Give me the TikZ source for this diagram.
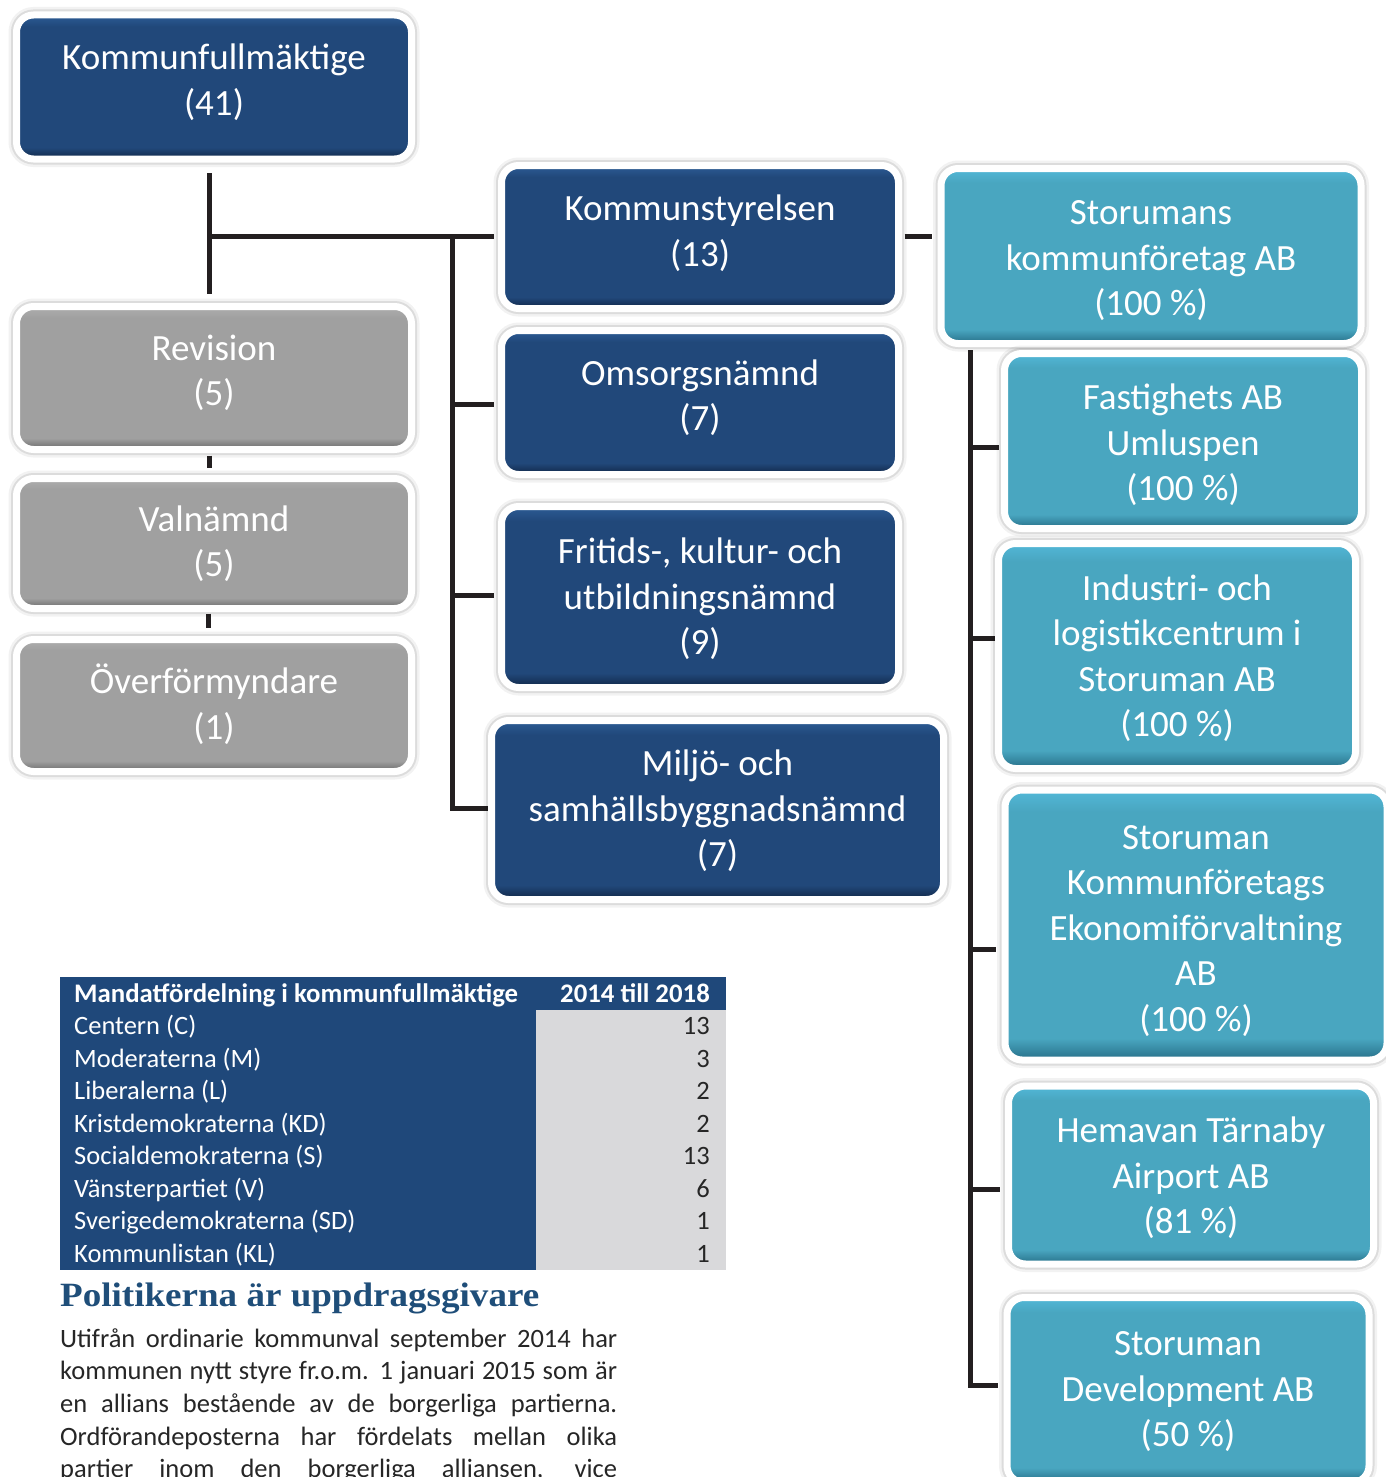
\documentclass[tikz,border=0pt]{standalone}
\usepackage{graphicx}
\usepackage{fontspec}
\setmainfont{Carlito}
\newfontfamily\headfont{Liberation Serif}
\usetikzlibrary{calc,backgrounds}

\definecolor{kblue}{RGB}{33,72,122}
\definecolor{kblueD}{RGB}{16,38,70}
\definecolor{kblueL}{RGB}{44,92,150}
\definecolor{kteal}{RGB}{73,166,192}
\definecolor{ktealD}{RGB}{38,110,135}
\definecolor{ktealL}{RGB}{82,184,216}
\definecolor{kgray}{RGB}{160,160,160}
\definecolor{kgrayD}{RGB}{105,105,105}
\definecolor{kgrayL}{RGB}{174,174,174}
\definecolor{conncol}{RGB}{35,31,32}
\definecolor{tblue}{RGB}{31,72,122}
\definecolor{tgray}{RGB}{217,217,219}
\definecolor{headblue}{RGB}{31,78,121}
\definecolor{bodytext}{RGB}{38,38,38}

\pgfdeclareverticalshading{blueshade}{100bp}{color(0bp)=(kblueD); color(25bp)=(kblueD); color(29bp)=(kblue); color(71bp)=(kblue); color(75bp)=(kblueL); color(100bp)=(kblueL)}
\pgfdeclareverticalshading{tealshade}{100bp}{color(0bp)=(ktealD); color(25bp)=(ktealD); color(29bp)=(kteal); color(71bp)=(kteal); color(75bp)=(ktealL); color(100bp)=(ktealL)}
\pgfdeclareverticalshading{grayshade}{100bp}{color(0bp)=(kgrayD); color(25bp)=(kgrayD); color(29bp)=(kgray); color(71bp)=(kgray); color(75bp)=(kgrayL); color(100bp)=(kgrayL)}

\newlength\boxlift
\newcommand{\bl}[1]{\raisebox{\boxlift}[\height][\depth]{#1}}

\tikzset{
  orgbox/.style={rounded corners=17pt, draw=white, line width=7pt, text=white,
    align=center, inner sep=0pt, outer sep=0pt, font=\fontsize{37}{45.5}\selectfont,
    preaction={draw=black, draw opacity=0.05, line width=16pt},
    preaction={draw=black, draw opacity=0.09, line width=11pt}},
  bluebox/.style={orgbox, shade, shading=blueshade},
  tealbox/.style={orgbox, shade, shading=tealshade},
  graybox/.style={orgbox, shade, shading=grayshade},
  textlift/.style={/utils/exec={\setlength{\boxlift}{#1}}},
  conn/.style={draw=conncol, line width=5pt, line join=miter},
  tabtxt/.style={inner sep=0pt, font=\fontsize{26.5}{32}\selectfont},
  bodytxt/.style={inner sep=0pt, text=bodytext, font=\fontsize{26.5}{32}\selectfont, anchor=base west}
}

\begin{document}
\begin{tikzpicture}[x=1pt,y=-1pt]
\useasboundingbox (0,0) rectangle (1386,1477);
\begin{scope}[on background layer]
  \fill[white] (0,0) rectangle (1386,1477);
\end{scope}

% left column
\node[bluebox, textlift=5pt, minimum width=395pt, minimum height=144pt] (kf) at (214,87) {\bl{Kommunfullmäktige}\\\bl{(41)}};
\node[graybox, textlift=5pt, minimum width=395pt, minimum height=143pt] (rev) at (214,378) {\bl{Revision}\\\bl{(5)}};
\node[graybox, textlift=0pt, minimum width=395pt, minimum height=130pt] (val) at (214,543.5) {\bl{Valnämnd}\\\bl{(5)}};
\node[graybox, textlift=1.5pt, minimum width=395pt, minimum height=132pt] (ovf) at (214,705.5) {\bl{Överförmyndare}\\\bl{(1)}};

% middle column
\node[bluebox, textlift=4pt, minimum width=397pt, minimum height=143pt] (ks) at (700,237) {\bl{Kommunstyrelsen}\\\bl{(13)}};
\node[bluebox, textlift=5pt, minimum width=397pt, minimum height=144pt] (oms) at (700,402.5) {\bl{Omsorgsnämnd}\\\bl{(7)}};
\node[bluebox, textlift=-2pt, minimum width=397pt, minimum height=181pt] (frit) at (700,597) {\bl{Fritids-, kultur- och}\\\bl{utbildningsnämnd}\\\bl{(9)}};
\node[bluebox, textlift=-1pt, minimum width=452pt, minimum height=179pt] (milj) at (717.5,810) {\bl{Miljö- och}\\\bl{samhällsbyggnadsnämnd}\\\bl{(7)}};

% right column
\node[tealbox, textlift=-5pt, minimum width=420pt, minimum height=175pt] (skab) at (1151,256) {\bl{Storumans}\\\bl{kommunföretag AB}\\\bl{(100 \%)}};
\node[tealbox, textlift=-4pt, minimum width=357pt, minimum height=175pt] (fast) at (1183,441) {\bl{Fastighets AB}\\\bl{Umluspen}\\\bl{(100 \%)}};
\node[tealbox, textlift=-2pt, minimum width=357pt, minimum height=225pt] (ind) at (1177,656) {\bl{Industri- och}\\\bl{logistikcentrum i}\\\bl{Storuman AB}\\\bl{(100 \%)}};
\node[tealbox, textlift=-6pt, minimum width=382pt, minimum height=270pt] (ekon) at (1196,925) {\bl{Storuman}\\\bl{Kommunföretags}\\\bl{Ekonomiförvaltning}\\\bl{AB}\\\bl{(100 \%)}};
\node[tealbox, textlift=-3pt, minimum width=365pt, minimum height=178pt] (hem) at (1191,1175) {\bl{Hemavan Tärnaby}\\\bl{Airport AB}\\\bl{(81 \%)}};
\node[tealbox, textlift=-2pt, minimum width=362pt, minimum height=185pt] (dev) at (1188,1390) {\bl{Storuman}\\\bl{Development AB}\\\bl{(50 \%)}};

% junction coordinates
\coordinate (j1) at (209,236);
\coordinate (j2) at (452,236);
\coordinate (jo) at (452,404);
\coordinate (jf) at (452,595);
\coordinate (jm) at (452,808);
\coordinate (r1) at (970,350);
\coordinate (rf) at (970,447);
\coordinate (ri) at (970,638);
\coordinate (re) at (970,949);
\coordinate (rh) at (970,1189);
\coordinate (rd) at (970,1385);

\begin{scope}[on background layer]
  \draw[conn] ($(kf.south)+(-5,14)$) -- ($(rev.north)+(-5,-13)$);
  \draw[conn] ($(rev.south)+(-5,6)$) -- ($(val.north)+(-5,-11)$);
  \draw[conn] ($(val.south)+(-6,5)$) -- ($(ovf.north)+(-6,-12)$);
  \draw[conn] (j1) -- ($(j1 -| ks.west)+(-8,0)$);
  \draw[conn] (j2) -- (jm) -- ($(jm -| milj.west)+(-2,0)$);
  \draw[conn] (jo) -- ($(jo -| oms.west)+(-8,0)$);
  \draw[conn] (jf) -- ($(jf -| frit.west)+(-8,0)$);
  \draw[conn] ($(ks.east)+(6,-1)$) -- ($(ks.east -| skab.west)+(-9,-1)$);
  \draw[conn] (r1) -- (rd) -- ($(rd -| dev.west)+(-9,0)$);
  \draw[conn] (rf) -- ($(rf -| fast.west)+(-6,0)$);
  \draw[conn] (ri) -- ($(ri -| ind.west)+(-3,0)$);
  \draw[conn] (re) -- ($(re -| ekon.west)+(-9,0)$);
  \draw[conn] (rh) -- ($(rh -| hem.west)+(-9,0)$);
\end{scope}

% table
\fill[tblue] (60,977) rectangle (726,1270);
\fill[tgray] (536,1010) rectangle (726,1270);
\node[tabtxt, text=white, font=\fontsize{26.8}{32}\selectfont\bfseries, anchor=base west] (th1) at (74,1002) {Mandatfördelning i kommunfullmäktige};
\node[tabtxt, text=white, font=\fontsize{26.8}{32}\selectfont\bfseries, anchor=base east] (th2) at (710,1002) {2014 till 2018};
\foreach \nm/\vl [count=\i] in {Centern (C)/13, Moderaterna (M)/3, Liberalerna (L)/2, Kristdemokraterna (KD)/2, Socialdemokraterna (S)/13, Vänsterpartiet (V)/6, Sverigedemokraterna (SD)/1, Kommunlistan (KL)/1}{
  \node[tabtxt, text=white, anchor=base west] (tn\i) at (74,{1002+32.5*\i}) {\nm};
  \node[tabtxt, text=bodytext, anchor=base east] (tv\i) at (710,{1002+32.5*\i}) {\vl};
}

% heading and body text
\node[inner sep=0pt, anchor=base west, text=headblue, font=\headfont\bfseries\fontsize{34}{40}\selectfont] (head) at (60,1306) {\scalebox{1.09}[1]{Politikerna är uppdragsgivare}};
\node[bodytxt] (p1) at (60,1347) {\makebox[557pt][s]{Utifrån ordinarie kommunval september 2014 har}};
\node[bodytxt] (p2) at (60,1379.7) {\makebox[557pt][s]{kommunen nytt styre fr.o.m. 1 januari 2015 som är}};
\node[bodytxt] (p3) at (60,1412.4) {\makebox[557pt][s]{en allians bestående av de borgerliga partierna.}};
\node[bodytxt] (p4) at (60,1445.1) {\makebox[557pt][s]{Ordförandeposterna har fördelats mellan olika}};
\node[bodytxt] (p5) at (60,1477.8) {\makebox[557pt][s]{partier inom den borgerliga alliansen, vice}};
\end{tikzpicture}
\end{document}
